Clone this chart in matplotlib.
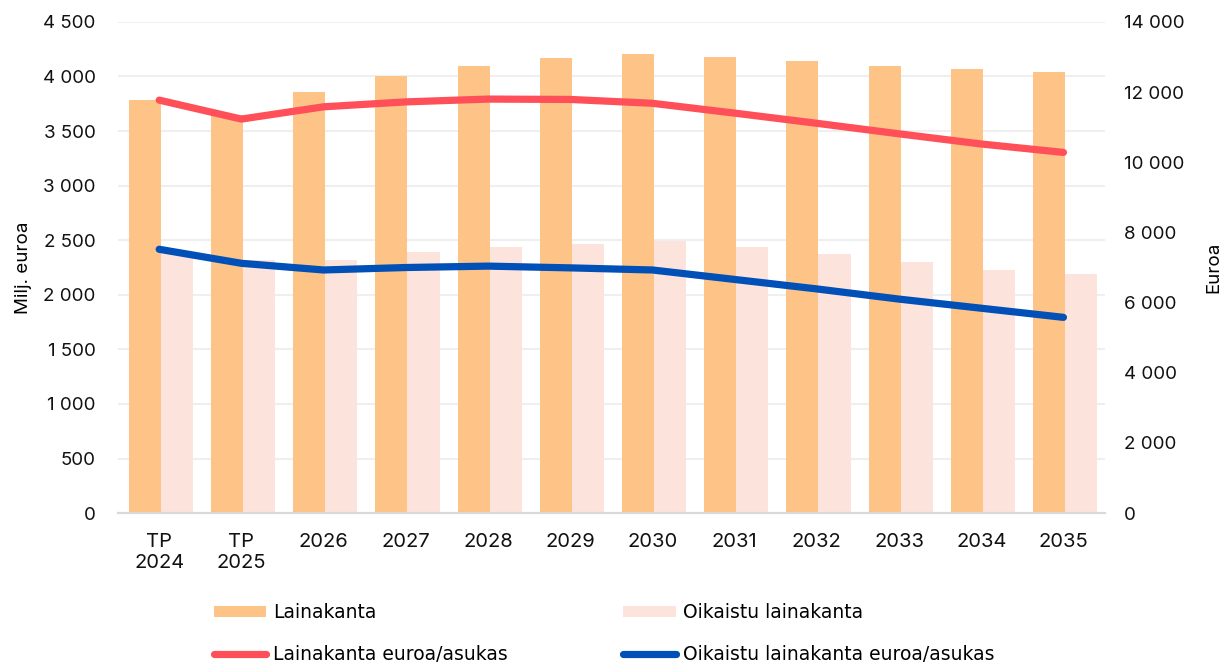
import numpy as np
import matplotlib.pyplot as plt
from matplotlib.ticker import FuncFormatter

# --- DATA ---
categories = ["TP\n2024", "TP\n2025", "2026", "2027", "2028", "2029",
              "2030", "2031", "2032", "2033", "2034", "2035"]
lainakanta = [3780, 3650, 3860, 4000, 4100, 4170, 4210, 4180, 4145, 4100, 4065, 4040]
oikaistu = [2380, 2320, 2320, 2395, 2440, 2465, 2490, 2435, 2370, 2300, 2230, 2190]
lainakanta_asukas = [11770, 11230, 11580, 11720, 11800, 11790, 11680, 11400, 11110, 10810, 10520, 10280]
oikaistu_asukas = [7520, 7120, 6930, 7000, 7040, 6990, 6930, 6660, 6390, 6100, 5840, 5580]

plt.rcParams['font.family'] = ['Inter', 'DejaVu Sans']


def space_thousands(v, pos):
    return f"{int(v):,}".replace(",", " ")


# --- PLOT ---
fig = plt.figure(figsize=(12.3, 6.63), dpi=100)
ax = fig.add_axes([0.096, 0.226, 0.802, 0.741])
ax2 = ax.twinx()

x = np.arange(len(categories))
w = 0.39
ax.bar(x - w / 2 + 0.02, lainakanta, width=w, color="#fec386", label="Lainakanta", zorder=2)
ax.bar(x + w / 2 + 0.02, oikaistu, width=w, color="#fce4dc", label="Oikaistu lainakanta", zorder=2)

ax2.plot(x, lainakanta_asukas, color="#ff4f58", lw=5.2, solid_capstyle="round",
         label="Lainakanta euroa/asukas")
ax2.plot(x, oikaistu_asukas, color="#0050b8", lw=5.2, solid_capstyle="round",
         label="Oikaistu lainakanta euroa/asukas")

# axes
ax.set_xlim(-0.5, len(categories) - 0.5)
ax.set_ylim(0, 4500)
ax.set_yticks(np.arange(0, 4501, 500))
ax2.set_ylim(0, 14000)
ax2.set_yticks(np.arange(0, 14001, 2000))
ax.yaxis.set_major_formatter(FuncFormatter(space_thousands))
ax2.yaxis.set_major_formatter(FuncFormatter(space_thousands))
ax.set_xticks(x)

ax.grid(axis="y", color="#efefef", lw=1.5, zorder=0)
ax.set_axisbelow(True)
for a in (ax, ax2):
    for s in ("top", "left", "right"):
        a.spines[s].set_visible(False)
    a.spines["bottom"].set_color("#d9d9d9")
    a.spines["bottom"].set_linewidth(1.5)
    a.tick_params(length=0, labelsize=13.5, colors="#111111")
ax.set_xticklabels(categories, fontsize=14.5, linespacing=1.25)
ax.tick_params(axis="y", pad=16)
ax.tick_params(axis="x", pad=14)
ax2.tick_params(axis="y", pad=14)

ax.set_ylabel("Milj. euroa", fontsize=13.5, labelpad=8)
ax2.set_ylabel("Euroa", fontsize=13.5, labelpad=15)

# legend
h1, l1 = ax.get_legend_handles_labels()
h2, l2 = ax2.get_legend_handles_labels()
handles = [h1[0], h2[0], h1[1], h2[1]]
labels = [l1[0], l2[0], l1[1], l2[1]]
fig.legend(handles, labels, ncol=2, loc="lower left", bbox_to_anchor=(0.16, -0.027),
           frameon=False, prop={"family": "DejaVu Sans", "size": 13.5},
           handlelength=2.8, handleheight=0.6,
           handletextpad=0.37, columnspacing=6.15, labelspacing=1.22)

plt.savefig("out.png", dpi=100)
